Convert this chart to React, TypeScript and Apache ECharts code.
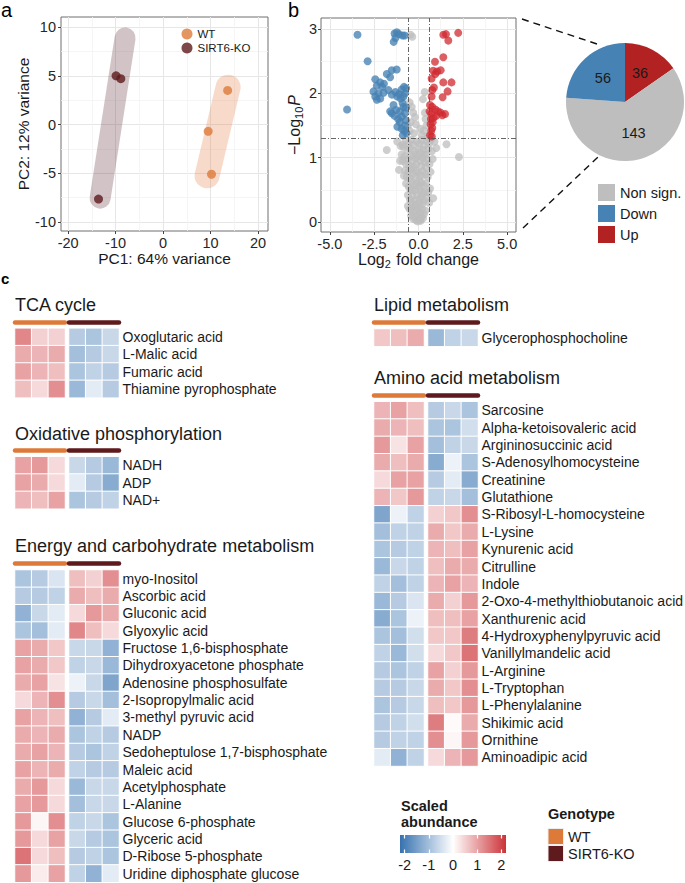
import React, { useEffect, useRef } from "react";
import * as echarts from "echarts";

const FONT = "'Liberation Sans', Arial, Helvetica, sans-serif";
const TXT = "#1a1a1a";
const TICK_TXT = "#262626";

// ---------------- Panel a : PCA ----------------
const pcaWT = [[13.6, 3.5], [9.5, -0.7], [10.2, -5.1]];
const pcaKO = [[-9.9, 5.0], [-8.9, 4.7], [-13.6, -7.65]];
const pcaHullKO = [[-8.0, 8.88, -13.26, -7.55]];
const pcaHullWT = [[13.7, 3.83, 9.26, -5.26]];
const pcaXTicks = [-20, -10, 0, 10, 20];
const pcaXMinor = [-15, -5, 5, 15];
const pcaYTicks = [-10, -5, 0, 5, 10];
const pcaYMinor = [-7.5, -2.5, 2.5, 7.5];

// ---------------- Panel b : volcano ----------------
const fcCut = 0.585;
const pCut = 1.301;
const volXTicks = [-5, -2.5, 0, 2.5, 5];
const volXMinor = [-3.75, -1.25, 1.25, 3.75];
const volYTicks = [0, 1, 2, 3];
const volYMinor = [0.5, 1.5, 2.5];

const volcanoDown = [
  [-3.44, 2.91], [-2.87, 2.5], [-4.03, 1.75],
  [-1.35, 2.93], [-1.22, 2.95], [-1.1, 2.92], [-1.4, 2.8], [-1.3, 2.86], [-0.9, 2.9], [-0.78, 2.9],
  [-1.79, 2.3], [-1.51, 2.36], [-1.23, 2.37], [-1.6, 2.25],
  [-2.44, 2.22], [-2.16, 2.17], [-2.35, 2.12], [-1.95, 2.15], [-2.05, 2.1],
  [-2.54, 2.03], [-2.44, 1.95], [-2.26, 2.0], [-1.97, 2.01], [-2.16, 1.92], [-2.35, 1.9], [-1.69, 2.05],
  [-1.5, 1.98], [-1.3, 2.02], [-1.1, 1.99], [-0.95, 2.06], [-0.82, 2.1], [-0.75, 2.0], [-0.85, 1.95],
  [-1.0, 1.92], [-1.2, 1.95], [-0.7, 2.08],
  [-1.41, 1.82], [-1.26, 1.74], [-1.51, 1.69], [-1.04, 1.72], [-0.95, 1.64], [-0.85, 1.79], [-0.76, 1.69],
  [-1.6, 1.72], [-1.15, 1.6], [-0.7, 1.78], [-0.9, 1.85], [-1.35, 1.65],
  [-1.19, 1.48], [-0.76, 1.5], [-0.89, 1.35], [-0.72, 1.58], [-1.05, 1.55], [-0.8, 1.42], [-0.68, 1.38], [-0.95, 1.45],
];
const volcanoUp = [
  [1.4, 2.91], [1.55, 2.92], [1.68, 2.82], [2.24, 2.94],
  [0.93, 2.49], [1.4, 2.56], [0.83, 2.35], [1.05, 2.34], [1.25, 2.36], [0.95, 2.3],
  [0.74, 2.23], [1.4, 2.17], [1.86, 2.17], [0.87, 2.09], [1.64, 2.03], [1.36, 1.94], [0.74, 1.95], [0.78, 2.05],
  [0.78, 1.79], [0.95, 1.75], [0.72, 1.68], [1.1, 1.72], [1.25, 1.7], [1.35, 1.66], [0.62, 1.72], [0.85, 1.62],
  [0.7, 1.6], [1.0, 1.65], [0.65, 1.82], [1.5, 1.68],
  [0.78, 1.46], [0.72, 1.42], [0.68, 1.52], [0.8, 1.55], [0.65, 1.35], [0.75, 1.33],
];
const volcanoNonSig = [
  [-0.45, 2.91], [-0.35, 2.88], [0.35, 2.02], [0.25, 1.91], [-0.5, 1.86], [-0.38, 1.79], [-0.3, 1.7], [-0.2, 1.63],
  [0.36, 1.7], [0.4, 1.6], [0.45, 1.5], [0.3, 1.42], [-0.6, 1.5], [-0.5, 1.42], [-0.45, 1.55], [0.2, 1.35],
  [-0.25, 1.38], [0.1, 1.45], [0.5, 1.33], [-0.15, 1.52],
  [-1.79, 1.12], [2.28, 1.01], [1.58, 1.21], [-1.2, 1.25], [1.0, 1.15], [-1.04, 0.95], [-1.1, 0.81],
  [0.83, 0.37], [0.65, 0.52], [-0.9, 1.2], [0.9, 1.25],
  [-0.72, 1.27], [-0.55, 1.22], [-0.4, 1.28], [-0.3, 1.2], [-0.1, 1.25], [0.05, 1.22], [0.18, 1.28], [0.3, 1.19],
  [0.45, 1.26], [0.6, 1.22], [0.7, 1.28], [-0.85, 1.17], [-0.62, 1.12], [-0.48, 1.15], [-0.22, 1.1], [0.0, 1.13],
  [0.12, 1.08], [0.28, 1.12], [0.42, 1.05], [0.55, 1.14], [0.75, 1.1],
  [-0.8, 1.02], [-0.6, 0.98], [-0.45, 1.03], [-0.35, 0.95], [-0.18, 0.99], [-0.05, 1.02], [0.08, 0.95], [0.22, 1.0],
  [0.35, 0.93], [0.5, 0.97], [0.62, 0.9], [-0.7, 0.9], [-0.52, 0.88], [-0.28, 0.86], [-0.12, 0.9], [0.15, 0.87], [0.4, 0.85],
  [-0.75, 0.8], [-0.58, 0.78], [-0.42, 0.82], [-0.3, 0.75], [-0.15, 0.8], [0.0, 0.77], [0.12, 0.72], [0.25, 0.79],
  [0.38, 0.74], [0.52, 0.7], [-0.65, 0.7], [-0.48, 0.68], [-0.2, 0.7], [0.05, 0.66],
  [-0.7, 0.6], [-0.55, 0.55], [-0.38, 0.62], [-0.25, 0.58], [-0.1, 0.6], [0.02, 0.55], [0.15, 0.62], [0.3, 0.57],
  [0.42, 0.6], [-0.45, 0.5], [-0.18, 0.49], [0.1, 0.5], [0.35, 0.47], [0.55, 0.46],
  [-0.6, 0.42], [-0.48, 0.35], [-0.35, 0.4], [-0.22, 0.33], [-0.08, 0.42], [0.05, 0.36], [0.18, 0.4], [0.3, 0.33],
  [0.45, 0.38], [-0.4, 0.3], [0.22, 0.28], [0.6, 0.3], [-0.15, 0.27],
  [-0.5, 0.2], [-0.38, 0.22], [-0.3, 0.15], [-0.2, 0.24], [-0.1, 0.18], [0.0, 0.22], [0.1, 0.15], [0.2, 0.2],
  [0.3, 0.12], [-0.42, 0.1], [-0.05, 0.1], [0.15, 0.08], [0.38, 0.18],
  [-0.3, 0.05], [-0.15, 0.03], [0.0, 0.05], [0.12, 0.02], [0.25, 0.06], [-0.05, 0.01], [0.08, 0.04],
  [-0.95, 1.05], [-0.88, 0.95], [-1.0, 1.18], [0.8, 0.98], [0.68, 0.78], [-0.82, 0.72], [-0.25, 1.05],
  [0.3, 1.05], [-0.35, 0.5], [0.25, 0.45], [-0.28, 0.1], [0.05, 0.3], [-0.6, 0.25],
];

// ---------------- Pie ----------------
const pieCategories = ["Up", "Non sign.", "Down"];
const pieValues = [36, 143, 56];
const pieLegendOrder = ["Non sign.", "Down", "Up"];

// ---------------- Panel c : heatmaps ----------------
const wtSamples = ["WT1", "WT2", "WT3"];
const koSamples = ["KO1", "KO2", "KO3"];

const tcaRows = ["Oxoglutaric acid", "L-Malic acid", "Fumaric acid", "Thiamine pyrophosphate"];
const tcaValues = [
  [1.3, 0.5, 0.5, -0.8, -0.9, -0.6],
  [0.9, 0.8, 0.9, -1.0, -0.8, -0.6],
  [1.0, 0.8, 0.7, -0.9, -0.7, -0.8],
  [0.7, 0.4, 1.2, -1.1, -0.3, -0.8],
];
const oxRows = ["NADH", "ADP", "NAD+"];
const oxValues = [
  [1.0, 1.1, 0.4, -0.6, -0.8, -1.1],
  [1.0, 0.9, 0.4, -0.3, -0.8, -1.3],
  [0.8, 0.7, 1.0, -0.9, -0.8, -0.7],
];
const energyRows = [
  "myo-Inositol", "Ascorbic acid", "Gluconic acid", "Glyoxylic acid", "Fructose 1,6-bisphosphate",
  "Dihydroxyacetone phosphate", "Adenosine phosphosulfate", "2-Isopropylmalic acid", "3-methyl pyruvic acid",
  "NADP", "Sedoheptulose 1,7-bisphosphate", "Maleic acid", "Acetylphosphate", "L-Alanine",
  "Glucose 6-phosphate", "Glyceric acid", "D-Ribose 5-phosphate", "Uridine diphosphate glucose",
];
const energyValues = [
  [-0.9, -0.8, -0.4, 0.7, 0.5, 1.2],
  [-0.8, -0.8, -0.7, 0.9, 0.7, 0.9],
  [-1.2, -0.6, -0.3, 0.4, 1.1, 0.9],
  [-0.9, -1.0, -0.3, 1.3, 0.7, 0.4],
  [1.0, 0.9, 0.6, -0.6, -0.6, -1.2],
  [1.0, 0.9, 0.6, -0.7, -0.6, -1.1],
  [0.9, 1.0, 0.3, -0.2, -0.6, -1.4],
  [0.4, 0.8, 1.2, -0.8, -0.6, -1.0],
  [1.0, 0.8, 0.7, -1.2, -0.8, -0.3],
  [0.9, 0.8, 0.9, -0.9, -0.7, -0.8],
  [0.9, 1.0, 0.8, -0.8, -0.9, -0.7],
  [1.0, 0.8, 0.9, -0.7, -0.8, -0.8],
  [0.9, 1.1, 0.4, -1.1, -0.6, -0.6],
  [1.0, 1.1, 0.4, -1.0, -0.6, -0.6],
  [1.1, 0.1, 1.2, -0.7, -0.6, -0.9],
  [1.1, 0.4, 1.0, -0.6, -0.8, -0.9],
  [1.5, 0.4, 0.7, -0.8, -0.7, -0.9],
  [1.1, 0.2, 1.0, -0.7, -1.2, -0.3],
];
const lipidRows = ["Glycerophosphocholine"];
const lipidValues = [[0.6, 0.7, 0.9, -1.1, -0.7, -0.6]];
const aminoRows = [
  "Sarcosine", "Alpha-ketoisovaleric acid", "Argininosuccinic acid", "S-Adenosylhomocysteine", "Creatinine",
  "Glutathione", "S-Ribosyl-L-homocysteine", "L-Lysine", "Kynurenic acid", "Citrulline", "Indole",
  "2-Oxo-4-methylthiobutanoic acid", "Xanthurenic acid", "4-Hydroxyphenylpyruvic acid", "Vanillylmandelic acid",
  "L-Arginine", "L-Tryptophan", "L-Phenylalanine", "Shikimic acid", "Ornithine", "Aminoadipic acid",
];
const aminoValues = [
  [0.8, 1.0, 0.7, -0.8, -0.6, -0.9],
  [0.9, 0.8, 0.7, -0.9, -0.9, -0.5],
  [1.1, 0.3, 1.0, -1.0, -0.7, -0.6],
  [0.9, 0.7, 0.9, -1.3, -0.2, -0.9],
  [0.4, 1.0, 1.0, -0.8, -0.3, -1.3],
  [0.8, 0.6, 1.1, -0.7, -0.6, -1.0],
  [-1.4, -0.2, -0.7, 0.5, 0.6, 1.2],
  [-1.0, -0.7, -0.7, 0.9, 0.6, 0.9],
  [-0.9, -0.8, -0.7, 0.8, 0.7, 1.0],
  [-1.1, -0.6, -0.7, 0.7, 0.9, 0.9],
  [-0.7, -1.0, -0.7, 0.8, 1.0, 0.8],
  [-1.1, -0.8, -0.4, 0.9, 0.5, 1.1],
  [-1.3, -0.9, -0.2, 0.7, 0.7, 1.0],
  [-0.9, -1.0, -0.5, 0.6, 0.6, 1.4],
  [-0.7, -1.1, -0.5, 0.4, 0.6, 1.5],
  [-0.8, -0.9, -0.7, 1.0, 0.5, 1.1],
  [-0.8, -0.8, -0.6, 0.9, 0.6, 1.2],
  [-0.9, -0.8, -0.6, 0.7, 0.6, 1.1],
  [-0.8, -0.7, -0.5, 1.4, 0.05, 0.9],
  [-0.8, -0.7, -0.7, 1.2, 0.1, 1.1],
  [-0.3, -1.2, -0.7, 0.4, 0.8, 1.1],
];
const scaleTicks = [-2, -1, 0, 1, 2];
const scaleLimit = 2.19;

// ---------------- styling / layout ----------------
const WT_COL = "#DD7A3A";
const KO_COL = "#5E1A1D";
const HEAT_BLUE = "#3672B0";
const HEAT_RED = "#CC3338";
const ROW_H = 17.35;

const heatBlocks = [
  { title: "TCA cycle", rows: tcaRows, values: tcaValues, x: 15, top: 328.3, titleY: 304.5 },
  { title: "Oxidative phosphorylation", rows: oxRows, values: oxValues, x: 15, top: 456.7, titleY: 434 },
  { title: "Energy and carbohydrate metabolism", rows: energyRows, values: energyValues, x: 15, top: 570, titleY: 545.5 },
  { title: "Lipid metabolism", rows: lipidRows, values: lipidValues, x: 374, top: 329, titleY: 305.3 },
  { title: "Amino acid metabolism", rows: aminoRows, values: aminoValues, x: 374, top: 401.7, titleY: 377.8 },
];

function mainAxis(gridIndex: number, min: number, max: number, ticks: number[], extra: any) {
  return {
    type: "value",
    gridIndex,
    min,
    max,
    axisLine: { show: false, onZero: false },
    axisTick: { show: true, length: 3, customValues: ticks, lineStyle: { color: "#444", width: 1 } },
    axisLabel: { show: true, customValues: ticks, fontSize: 14.5, color: TICK_TXT, fontFamily: FONT, margin: 4 },
    splitLine: { show: true, lineStyle: { color: "#E6E6E6", width: 1 } },
    ...extra,
  };
}
function minorAxis(gridIndex: number, min: number, max: number, ticks: number[], position: string) {
  return {
    type: "value",
    gridIndex,
    min,
    max,
    position,
    axisLine: { show: false, onZero: false },
    axisTick: { show: false, customValues: ticks },
    axisLabel: { show: false },
    splitLine: { show: true, lineStyle: { color: "#F3F3F3", width: 0.8 } },
  };
}

function buildOption() {
  const grids: any[] = [
    { left: 61, top: 17, width: 207, height: 214, show: true, borderColor: "#6e6e6e", borderWidth: 1, backgroundColor: "transparent", outerBoundsMode: "none" },
    { left: 321, top: 18, width: 195, height: 214, show: true, borderColor: "#6e6e6e", borderWidth: 1, backgroundColor: "transparent", outerBoundsMode: "none" },
  ];
  const xAxes: any[] = [
    mainAxis(0, -21.5, 22.1, pcaXTicks, {
      position: "bottom",
      name: "PC1: 64% variance",
      nameLocation: "middle",
      nameGap: 17,
      nameTextStyle: { fontSize: 15.5, color: TXT, fontFamily: FONT },
    }),
    minorAxis(0, -21.5, 22.1, pcaXMinor, "top"),
    mainAxis(1, -5.5, 5.5, volXTicks, {
      position: "bottom",
      axisLabel: { show: true, customValues: volXTicks, fontSize: 14.5, color: TICK_TXT, fontFamily: FONT, margin: 4, formatter: (v: number) => v.toFixed(1) },
      name: "{t|Log}{s|2}{t| fold change}",
      nameLocation: "middle",
      nameGap: 17,
      nameTextStyle: {
        rich: {
          t: { fontSize: 16, color: TXT, fontFamily: FONT },
          s: { fontSize: 11, color: TXT, fontFamily: FONT, padding: [8, 1, 0, 0] },
        },
      },
    }),
    minorAxis(1, -5.5, 5.5, volXMinor, "top"),
  ];
  const yAxes: any[] = [
    mainAxis(0, -10.92, 11.03, pcaYTicks, {
      position: "left",
      axisLabel: { show: true, customValues: pcaYTicks, fontSize: 14.5, color: TICK_TXT, fontFamily: FONT, margin: 5 },
      name: "PC2: 12% variance",
      nameLocation: "middle",
      nameGap: 27,
      nameTextStyle: { fontSize: 15.5, color: TXT, fontFamily: FONT },
    }),
    minorAxis(0, -10.92, 11.03, pcaYMinor, "right"),
    mainAxis(1, -0.155, 3.171, volYTicks, {
      position: "left",
      name: "{t|\u2212Log}{s|10}{i|P}",
      nameLocation: "middle",
      nameGap: 17,
      nameTextStyle: {
        rich: {
          t: { fontSize: 16, color: TXT, fontFamily: FONT },
          s: { fontSize: 11, color: TXT, fontFamily: FONT, padding: [8, 0, 0, 0] },
          i: { fontSize: 16, color: TXT, fontFamily: FONT, fontStyle: "italic", padding: [0, 0, 0, 1] },
        },
      },
    }),
    minorAxis(1, -0.155, 3.171, volYMinor, "right"),
  ];

  const scatterBase = { type: "scatter", symbol: "circle", emphasis: { disabled: true }, silent: true };
  const series: any[] = [
    {
      type: "custom",
      name: "hullKO",
      xAxisIndex: 0,
      yAxisIndex: 0,
      z: 1,
      silent: true,
      data: pcaHullKO,
      renderItem: (_p: any, api: any) => {
        const a = api.coord([api.value(0), api.value(1)]);
        const b = api.coord([api.value(2), api.value(3)]);
        return { type: "line", shape: { x1: a[0], y1: a[1], x2: b[0], y2: b[1] }, style: { stroke: "rgba(107,58,66,0.3)", lineWidth: 21, lineCap: "round" } };
      },
    },
    {
      type: "custom",
      name: "hullWT",
      xAxisIndex: 0,
      yAxisIndex: 0,
      z: 1,
      silent: true,
      data: pcaHullWT,
      renderItem: (_p: any, api: any) => {
        const a = api.coord([api.value(0), api.value(1)]);
        const b = api.coord([api.value(2), api.value(3)]);
        return { type: "line", shape: { x1: a[0], y1: a[1], x2: b[0], y2: b[1] }, style: { stroke: "rgba(232,132,79,0.3)", lineWidth: 25, lineCap: "round" } };
      },
    },
    { ...scatterBase, name: "WT", xAxisIndex: 0, yAxisIndex: 0, z: 3, symbolSize: 9, data: pcaWT, itemStyle: { color: WT_COL } },
    { ...scatterBase, name: "SIRT6-KO", xAxisIndex: 0, yAxisIndex: 0, z: 3, symbolSize: 9, data: pcaKO, itemStyle: { color: KO_COL } },
    { ...scatterBase, name: "nonsig", xAxisIndex: 2, yAxisIndex: 2, symbolSize: 8, data: volcanoNonSig, itemStyle: { color: "#BDBDBD", opacity: 0.75 } },
    { ...scatterBase, name: "down", xAxisIndex: 2, yAxisIndex: 2, symbolSize: 8, data: volcanoDown, itemStyle: { color: "#4682B4", opacity: 0.78 } },
    {
      ...scatterBase,
      name: "up",
      xAxisIndex: 2,
      yAxisIndex: 2,
      symbolSize: 8,
      data: volcanoUp,
      itemStyle: { color: "#D02A30", opacity: 0.75 },
      markLine: {
        silent: true,
        symbol: "none",
        label: { show: false },
        lineStyle: { color: "#555", type: [5, 2, 1, 2], width: 0.9 },
        data: [{ xAxis: -fcCut }, { xAxis: fcCut }, { yAxis: pCut }],
      },
    },
    {
      type: "pie",
      name: "pie",
      center: [625, 102],
      radius: 59,
      startAngle: 90,
      clockwise: true,
      avoidLabelOverlap: false,
      silent: true,
      emphasis: { disabled: true },
      label: { show: true, position: "inside", formatter: "{c}", fontSize: 14.5, color: TXT, fontFamily: FONT },
      labelLine: { show: false },
      itemStyle: { borderWidth: 0 },
      data: pieCategories.map((c, i) => ({
        name: c,
        value: pieValues[i],
        itemStyle: { color: c === "Up" ? "#B22222" : c === "Down" ? "#4682B4" : "#BEBEBE" },
      })),
    },
  ];

  // x/y axis index offsets: 4 each already
  const heatSeriesIdx: number[] = [];
  const graphics: any[] = [];
  heatBlocks.forEach((b, bi) => {
    graphics.push({
      type: "text",
      x: b.x,
      y: b.titleY,
      style: { text: b.title, fontSize: 18, fontFamily: FONT, fill: TXT, verticalAlign: "middle", align: "left" },
    });
    [0, 1].forEach((gi) => {
      const gridIndex = grids.length;
      grids.push({ left: b.x + gi * 54, top: b.top, width: 50, height: b.rows.length * ROW_H, outerBoundsMode: "none" });
      const axisIndex = xAxes.length;
      xAxes.push({
        type: "category",
        gridIndex,
        data: gi === 0 ? wtSamples : koSamples,
        position: "top",
        offset: 6.5,
        axisLine: { show: true, lineStyle: { color: gi === 0 ? WT_COL : KO_COL, width: 4.5 } },
        axisTick: { show: false },
        axisLabel: { show: false },
        splitLine: { show: false },
      });
      yAxes.push({
        type: "category",
        gridIndex,
        data: b.rows,
        inverse: true,
        position: "right",
        axisLine: { show: false },
        axisTick: { show: false },
        axisLabel: { show: gi === 1, interval: 0, margin: 3.5, fontSize: 14, color: TXT, fontFamily: FONT },
        splitLine: { show: false },
      });
      const data: any[] = [];
      b.values.forEach((row, r) => {
        for (let c = 0; c < 3; c++) data.push([c, r, row[gi * 3 + c]]);
      });
      heatSeriesIdx.push(series.length);
      series.push({
        type: "heatmap",
        xAxisIndex: axisIndex,
        yAxisIndex: axisIndex,
        data,
        silent: true,
        emphasis: { disabled: true },
        itemStyle: { borderColor: "#ffffff", borderWidth: 1 },
      });
    });
  });

  // colour bar
  const cbGrid = grids.length;
  grids.push({ left: 400, top: 835, width: 106, height: 18, outerBoundsMode: "none" });
  const cbX = xAxes.length;
  xAxes.push({
    type: "value",
    gridIndex: cbGrid,
    min: -scaleLimit,
    max: scaleLimit,
    position: "bottom",
    z: 10,
    axisLine: { show: false, onZero: false },
    axisTick: { show: true, inside: true, length: 3.5, customValues: scaleTicks, lineStyle: { color: "#ffffff", width: 1.2 } },
    axisLabel: { show: true, customValues: scaleTicks, margin: 4, fontSize: 14.5, color: TXT, fontFamily: FONT },
    splitLine: { show: false },
  });
  xAxes.push({
    type: "value",
    gridIndex: cbGrid,
    min: -scaleLimit,
    max: scaleLimit,
    position: "top",
    z: 10,
    axisLine: { show: false, onZero: false },
    axisTick: { show: true, inside: true, length: 3.5, customValues: scaleTicks, lineStyle: { color: "#ffffff", width: 1.2 } },
    axisLabel: { show: false },
    splitLine: { show: false },
  });
  const cbY = yAxes.length;
  yAxes.push({ type: "value", gridIndex: cbGrid, min: 0, max: 1, show: false });
  series.push({
    type: "custom",
    name: "colorbar",
    xAxisIndex: cbX,
    yAxisIndex: cbY,
    silent: true,
    z: 1,
    data: [[-scaleLimit, 0, scaleLimit, 1]],
    renderItem: (_p: any, api: any) => {
      const a = api.coord([api.value(0), api.value(3)]);
      const b = api.coord([api.value(2), api.value(1)]);
      return {
        type: "rect",
        shape: { x: a[0], y: a[1], width: b[0] - a[0], height: b[1] - a[1] },
        style: {
          fill: new echarts.graphic.LinearGradient(0, 0, 1, 0, [
            { offset: 0, color: HEAT_BLUE },
            { offset: 0.5, color: "#ffffff" },
            { offset: 1, color: HEAT_RED },
          ]),
        },
      };
    },
  });

  graphics.push(
    { type: "text", x: 1, y: 10, style: { text: "a", fontSize: 20, fontFamily: FONT, fill: "#000", verticalAlign: "middle" } },
    { type: "text", x: 288, y: 10, style: { text: "b", fontSize: 20, fontFamily: FONT, fill: "#000", verticalAlign: "middle" } },
    { type: "text", x: 1, y: 278, style: { text: "c", fontSize: 15, fontWeight: "bold", fontFamily: FONT, fill: "#000", verticalAlign: "middle" } },
    { type: "line", shape: { x1: 522, y1: 19, x2: 597, y2: 44 }, style: { stroke: "#111", lineWidth: 1.4, lineDash: [7, 5] } },
    { type: "line", shape: { x1: 523, y1: 228, x2: 598, y2: 157 }, style: { stroke: "#111", lineWidth: 1.4, lineDash: [7, 5] } },
    { type: "text", x: 401, y: 806, style: { text: "Scaled", fontSize: 14.5, fontWeight: "bold", fontFamily: FONT, fill: TXT, verticalAlign: "middle" } },
    { type: "text", x: 401, y: 822, style: { text: "abundance", fontSize: 14.5, fontWeight: "bold", fontFamily: FONT, fill: TXT, verticalAlign: "middle" } },
    { type: "text", x: 548, y: 814, style: { text: "Genotype", fontSize: 14.5, fontWeight: "bold", fontFamily: FONT, fill: TXT, verticalAlign: "middle" } },
    { type: "rect", shape: { x: 548, y: 828.5, width: 15.5, height: 16 }, style: { fill: WT_COL, stroke: "#eeeeee", lineWidth: 1 } },
    { type: "rect", shape: { x: 548, y: 845.5, width: 15.5, height: 16 }, style: { fill: KO_COL, stroke: "#eeeeee", lineWidth: 1 } },
    { type: "text", x: 568, y: 837, style: { text: "WT", fontSize: 14.5, fontFamily: FONT, fill: TXT, verticalAlign: "middle" } },
    { type: "text", x: 568, y: 854, style: { text: "SIRT6-KO", fontSize: 14.5, fontFamily: FONT, fill: TXT, verticalAlign: "middle" } }
  );

  return {
    animation: false,
    backgroundColor: "#ffffff",
    textStyle: { fontFamily: FONT },
    grid: grids,
    xAxis: xAxes,
    yAxis: yAxes,
    visualMap: [
      {
        type: "continuous",
        show: false,
        min: -scaleLimit,
        max: scaleLimit,
        dimension: 2,
        seriesIndex: heatSeriesIdx,
        inRange: { color: [HEAT_BLUE, "#ffffff", HEAT_RED] },
      },
    ],
    legend: [
      {
        data: ["WT", "SIRT6-KO"],
        orient: "vertical",
        left: 181.5,
        top: 27,
        padding: 0,
        itemGap: 0,
        itemWidth: 11,
        itemHeight: 11,
        icon: "circle",
        selectedMode: false,
        textStyle: { fontSize: 11.5, color: TXT, fontFamily: FONT, lineHeight: 14 },
      },
      {
        data: pieLegendOrder,
        orient: "vertical",
        left: 598,
        top: 184,
        padding: 0,
        itemGap: 4,
        itemWidth: 17,
        itemHeight: 17,
        icon: "rect",
        selectedMode: false,
        textStyle: { fontSize: 14.5, color: TXT, fontFamily: FONT, lineHeight: 17 },
      },
    ],
    graphic: graphics,
    series,
  };
}

export default function App() {
  const ref = useRef<HTMLDivElement>(null);
  useEffect(() => {
    document.body.style.margin = "0";
    const chart = echarts.init(ref.current as HTMLDivElement, null, { renderer: "svg" });
    chart.setOption(buildOption() as any);
    return () => chart.dispose();
  }, []);
  return <div ref={ref} style={{ width: 685, height: 883 }} />;
}
